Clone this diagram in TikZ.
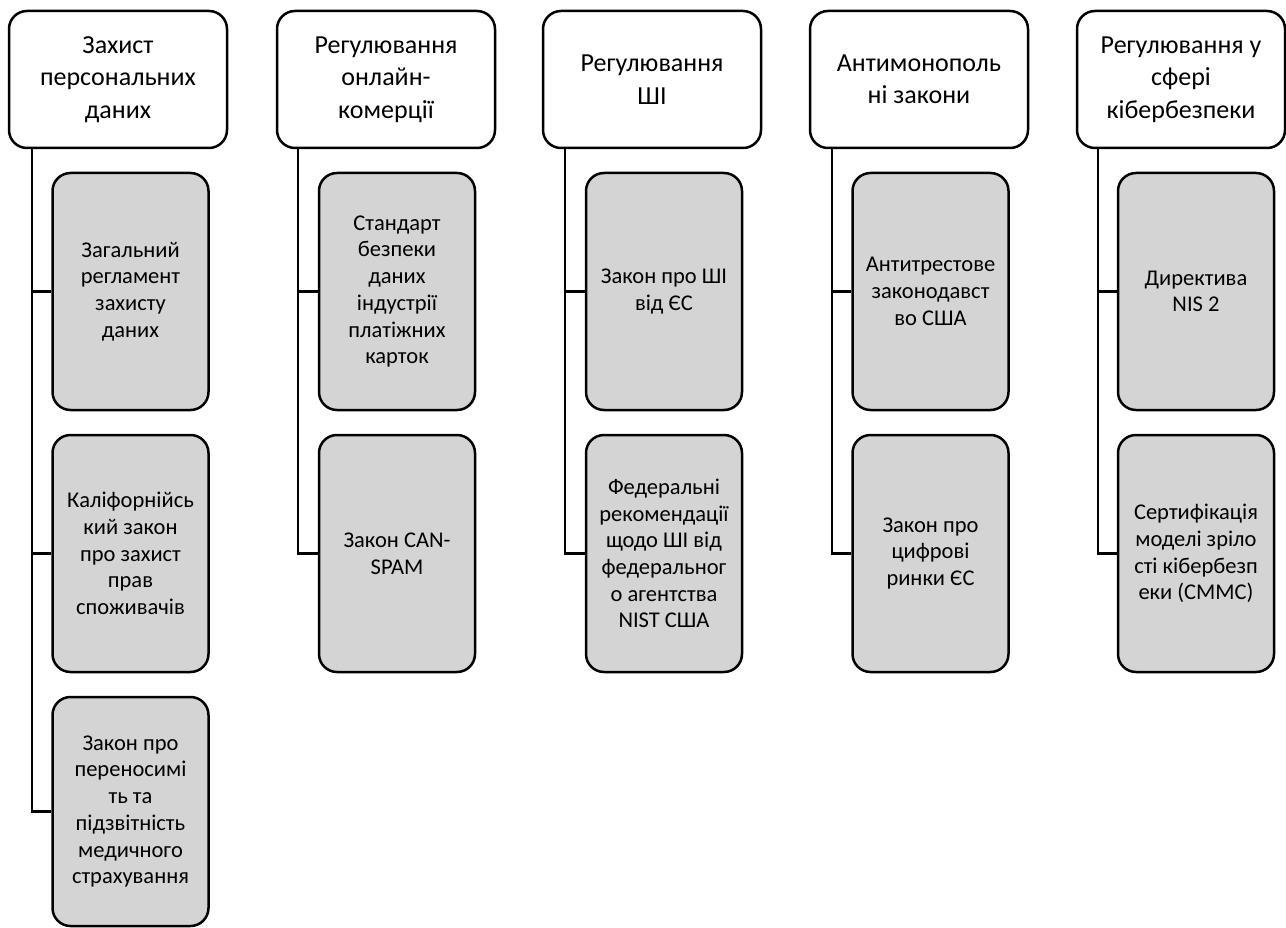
\documentclass[tikz,border=0pt]{standalone}
\usepackage{fontspec}
\setmainfont{Carlito}
\begin{document}
\begin{tikzpicture}[x=1pt,y=-1pt,
  topbox/.style={draw=black, line width=2.5pt, fill=white, rounded corners=18pt, inner sep=0pt,
    minimum height=137pt, align=center, font=\fontsize{26}{32.5}\selectfont},
  childbox/.style={draw=black, line width=2.5pt, fill=black!17, rounded corners=18pt, inner sep=0pt,
    minimum width=156pt, align=center, font=\fontsize{22.5}{26.7}\selectfont},
  link/.style={draw=black, line width=2.8pt}]
\useasboundingbox (0,0) rectangle (1286,928);
% top boxes
\node[topbox, minimum width=218pt] (t1) at (118,79.5) {Захист\\персональних\\даних};
\node[topbox, minimum width=218pt] (t2) at (386,79.5) {Регулювання\\онлайн-\\комерції};
\node[topbox, minimum width=218pt] (t3) at (652,79.5) {Регулювання\\ШІ};
\node[topbox, minimum width=218pt] (t4) at (919,79.5) {Антимонополь\\ні закони};
\node[topbox, minimum width=208pt] (t5) at (1181,79.5) {Регулювання у\\сфері\\кібербезпеки};
% children column 1
\node[childbox, minimum height=237pt] (c1a) at (130.5,291.5) {Загальний\\регламент\\захисту\\даних};
\node[childbox, minimum height=237pt] (c1b) at (130.5,553.5) {Каліфорнійсь\\кий закон\\про захист\\прав\\споживачів};
\node[childbox, minimum height=229pt] (c1c) at (130.5,811.5) {Закон про\\переносимі\\ть та\\підзвітність\\медичного\\страхування};
% column 2
\node[childbox, minimum height=237pt] (c2a) at (397,291.5) {Стандарт\\безпеки\\даних\\індустрії\\платіжних\\карток};
\node[childbox, minimum height=237pt] (c2b) at (397,553.5) {Закон CAN-\\SPAM};
% column 3
\node[childbox, minimum height=237pt] (c3a) at (664,291.5) {Закон про ШІ\\від ЄС};
\node[childbox, minimum height=237pt] (c3b) at (664,553.5) {Федеральні\\рекомендації\\щодо ШІ від\\федеральног\\о агентства\\NIST США};
% column 4
\node[childbox, minimum height=237pt] (c4a) at (930.5,291.5) {Антитрестове\\законодавст\\во США};
\node[childbox, minimum height=237pt] (c4b) at (930.5,553.5) {Закон про\\цифрові\\ринки ЄС};
% column 5
\node[childbox, minimum height=237pt] (c5a) at (1196,291.5) {Директива\\NIS 2};
\node[childbox, minimum height=237pt] (c5b) at (1196,553.5) {Сертифікація\\моделі зріло\\сті кібербезп\\еки (CMMC)};
% connector origins
\coordinate (v1) at (32,148);
\coordinate (v2) at (298,148);
\coordinate (v3) at (565,148);
\coordinate (v4) at (832,148);
\coordinate (v5) at (1098,148);
\draw[link] (v1) |- (c1c.west);
\draw[link] (v1) |- (c1a.west);
\draw[link] (v1) |- (c1b.west);
\draw[link] (v2) |- (c2b.west);
\draw[link] (v2) |- (c2a.west);
\draw[link] (v3) |- (c3b.west);
\draw[link] (v3) |- (c3a.west);
\draw[link] (v4) |- (c4b.west);
\draw[link] (v4) |- (c4a.west);
\draw[link] (v5) |- (c5b.west);
\draw[link] (v5) |- (c5a.west);
\end{tikzpicture}
\end{document}
